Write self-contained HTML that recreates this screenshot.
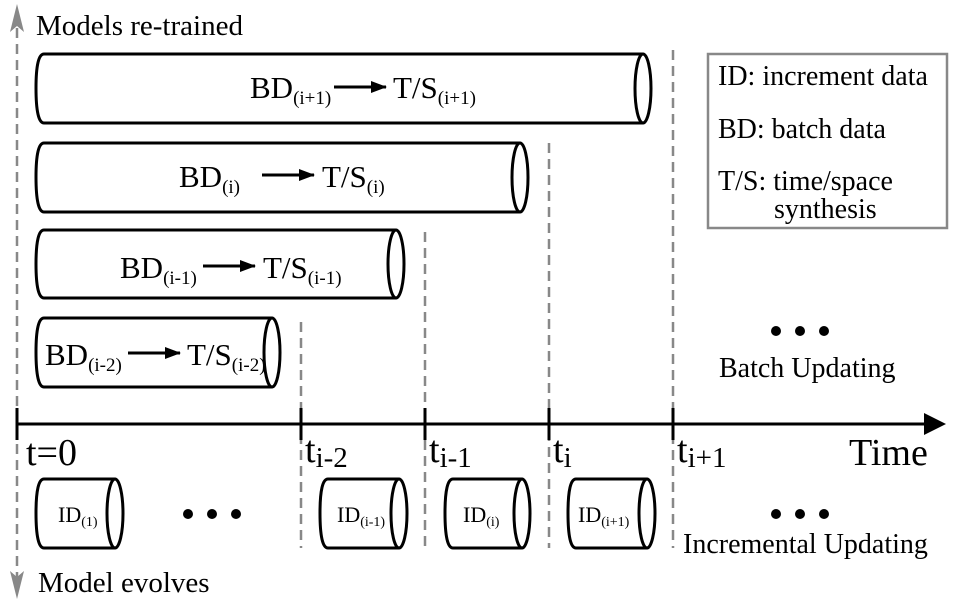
<!DOCTYPE html>
<html><head><meta charset="utf-8"><style>
body{margin:0;background:#fff}
svg{display:block;font-family:"Liberation Serif",serif}
</style></head><body>
<svg width="958" height="603" viewBox="0 0 958 603">
<defs>
<marker id="ahs" markerWidth="16" markerHeight="12" refX="15" refY="6" orient="auto" markerUnits="userSpaceOnUse"><path d="M0,0 L16,6 L0,12 z" fill="#000"/></marker>
</defs>
<g>
<line x1="17" y1="28" x2="17" y2="578" stroke="#888" stroke-width="2.5" stroke-dasharray="10,6"/>
<path d="M17,4 L10,32 L17,26 L24,32 z" fill="#888"/>
<path d="M17,599 L10,571 L17,577 L24,571 z" fill="#888"/>
</g>
<text x="36" y="35" font-size="29">Models re-trained</text>
<text x="38" y="592" font-size="29">Model evolves</text>
<g stroke="#888" stroke-width="2.5" stroke-dasharray="10,6">
<line x1="301" y1="322" x2="301" y2="548"/>
<line x1="425" y1="232" x2="425" y2="548"/>
<line x1="549" y1="143" x2="549" y2="548"/>
<line x1="673" y1="50" x2="673" y2="548"/>
</g>
<g fill="#fff" stroke="#000" stroke-width="3">
<g><path d="M643,54 L44,54 Q36,54 36,88 Q36,123 44,123 L643,123"/><ellipse cx="643" cy="88.5" rx="8" ry="34.5"/></g>
<g><path d="M520,143 L44,143 Q36,143 36,177 Q36,212 44,212 L520,212"/><ellipse cx="520" cy="177.5" rx="8" ry="34.5"/></g>
<g><path d="M396,230 L44,230 Q36,230 36,264 Q36,298 44,298 L396,298"/><ellipse cx="396" cy="264" rx="8" ry="34"/></g>
<g><path d="M272,318 L44,318 Q36,318 36,352 Q36,387 44,387 L272,387"/><ellipse cx="272" cy="352.5" rx="8" ry="34.5"/></g>
</g>
<g font-size="31">
<text x="250" y="98">BD<tspan font-size="19" dy="6">(i+1)</tspan></text>
<line x1="334" y1="87" x2="386" y2="87" stroke="#000" stroke-width="3" marker-end="url(#ahs)"/>
<text x="393" y="98">T/S<tspan font-size="19" dy="6">(i+1)</tspan></text>
<text x="179" y="187">BD<tspan font-size="19" dy="6">(i)</tspan></text>
<line x1="262" y1="175" x2="314" y2="175" stroke="#000" stroke-width="3" marker-end="url(#ahs)"/>
<text x="322" y="187">T/S<tspan font-size="19" dy="6">(i)</tspan></text>
<text x="120" y="278">BD<tspan font-size="19" dy="6">(i-1)</tspan></text>
<line x1="203" y1="266" x2="255" y2="266" stroke="#000" stroke-width="3" marker-end="url(#ahs)"/>
<text x="263" y="278">T/S<tspan font-size="19" dy="6">(i-1)</tspan></text>
<text x="45" y="365">BD<tspan font-size="19" dy="6">(i-2)</tspan></text>
<line x1="128" y1="353" x2="180" y2="353" stroke="#000" stroke-width="3" marker-end="url(#ahs)"/>
<text x="187" y="365">T/S<tspan font-size="19" dy="6">(i-2)</tspan></text>
</g>
<g>
<line x1="17" y1="424" x2="938" y2="424" stroke="#000" stroke-width="3"/>
<path d="M946,424 L924,413 L924,435 z" fill="#000"/>
<g stroke="#000" stroke-width="3">
<line x1="17" y1="408" x2="17" y2="440"/><line x1="301" y1="408" x2="301" y2="440"/><line x1="425" y1="408" x2="425" y2="440"/><line x1="549" y1="408" x2="549" y2="440"/><line x1="673" y1="408" x2="673" y2="440"/>
</g>
</g>
<g font-size="38">
<text x="26" y="465">t=0</text>
<text x="305" y="462">t<tspan font-size="29" dy="5">i-2</tspan></text>
<text x="429" y="462">t<tspan font-size="29" dy="5">i-1</tspan></text>
<text x="553" y="462">t<tspan font-size="29" dy="5">i</tspan></text>
<text x="677" y="462">t<tspan font-size="29" dy="5">i+1</tspan></text>
<text x="849" y="465">Time</text>
</g>
<g fill="#fff" stroke="#000" stroke-width="3">
<g><path d="M115,479 L44,479 Q36,479 36,513 Q36,548 44,548 L115,548"/><ellipse cx="115" cy="513.5" rx="8" ry="34.5"/></g>
<g><path d="M399,479 L328,479 Q320,479 320,513 Q320,548 328,548 L399,548"/><ellipse cx="399" cy="513.5" rx="8" ry="34.5"/></g>
<g><path d="M522,479 L453,479 Q445,479 445,513 Q445,548 453,548 L522,548"/><ellipse cx="522" cy="513.5" rx="8" ry="34.5"/></g>
<g><path d="M647,479 L576,479 Q568,479 568,513 Q568,548 576,548 L647,548"/><ellipse cx="647" cy="513.5" rx="8" ry="34.5"/></g>
</g>
<g font-size="22">
<text x="58" y="522">ID<tspan font-size="14" dy="4">(1)</tspan></text>
<text x="337" y="522">ID<tspan font-size="14" dy="4">(i-1)</tspan></text>
<text x="463" y="522">ID<tspan font-size="14" dy="4">(i)</tspan></text>
<text x="578" y="522">ID<tspan font-size="14" dy="4">(i+1)</tspan></text>
</g>
<g fill="#000">
<circle cx="188" cy="514" r="5"/><circle cx="212" cy="514" r="5"/><circle cx="236" cy="514" r="5"/>
<circle cx="776" cy="514" r="5"/><circle cx="800" cy="514" r="5"/><circle cx="824" cy="514" r="5"/>
<circle cx="776" cy="331" r="5"/><circle cx="800" cy="331" r="5"/><circle cx="824" cy="331" r="5"/>
</g>
<text x="719" y="377" font-size="28">Batch Updating</text>
<text x="683" y="553" font-size="28">Incremental Updating</text>
<g>
<rect x="708" y="54" width="239" height="174" fill="#fff" stroke="#888" stroke-width="2.5"/>
<text x="718" y="85" font-size="28">ID: increment data</text>
<text x="718" y="138" font-size="28">BD: batch data</text>
<text x="718" y="190" font-size="28">T/S: time/space</text>
<text x="774" y="218" font-size="28">synthesis</text>
</g>
</svg>
</body></html>
